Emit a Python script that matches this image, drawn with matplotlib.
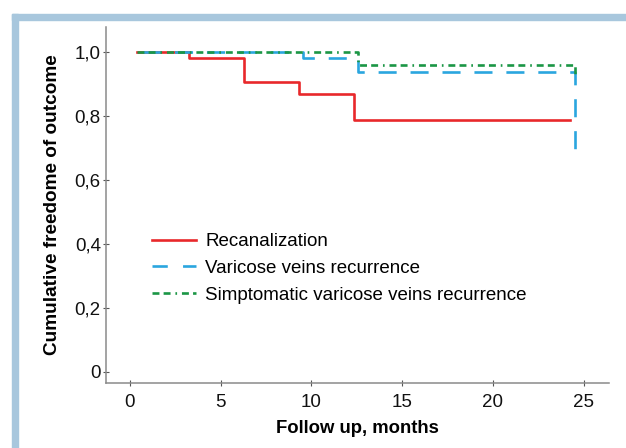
import matplotlib
matplotlib.use("Agg")
import matplotlib.pyplot as plt
from matplotlib.patches import Rectangle

plt.rcParams['font.family'] = ['Liberation Sans', 'DejaVu Sans']
plt.rcParams['lines.scale_dashes'] = False

# Kaplan-Meier curves (months, cumulative freedom)
recan_t = [0.37, 3.26, 6.29, 9.31, 12.33, 24.23]
recan_s = [1.0, 0.981, 0.906, 0.868, 0.787, 0.787]

vv_t = [0.37, 9.51, 12.54, 24.5]
vv_s = [1.0, 0.981, 0.936, 0.698]

symp_t = [0.37, 12.54, 24.5]
symp_s = [1.0, 0.96, 0.92]

labels = ["Recanalization", "Varicose veins recurrence",
          "Simptomatic varicose veins recurrence"]

x_ticks = [0, 5, 10, 15, 20, 25]
y_ticks = [0, 0.2, 0.4, 0.6, 0.8, 1.0]
y_ticklabels = ["0", "0,2", "0,4", "0,6", "0,8", "1,0"]

W, H = 626, 448
fig = plt.figure(figsize=(W / 100, H / 100), dpi=100)

# light blue frame on left and top
frame_col = "#a8c7dd"
fig.patches.append(Rectangle((12 / W, 0), 6 / W, 1 - 14 / H, transform=fig.transFigure,
                             color=frame_col, zorder=0))
fig.patches.append(Rectangle((12 / W, 1 - 20 / H), 1, 6 / H, transform=fig.transFigure,
                             color=frame_col, zorder=0))

ax = fig.add_axes([106 / W, 1 - 383 / H, (609 - 106) / W, (383 - 27) / H])

ax.step(recan_t, recan_s, where='post', color="#e8282b", lw=1.9, label=labels[0])
ax.step(vv_t, vv_s, where='post', color="#2aa6df", lw=1.9,
        linestyle=(19, (13, 10)), label=labels[1])
ax.step(symp_t, symp_s, where='post', color="#1b9645", lw=1.9,
        linestyle=(0, (5, 3, 5, 3.5, 1.2, 3.5)), label=labels[2])

ax.set_xlim(-1.32, 26.4)
ax.set_ylim(-0.035, 1.078)
ax.set_xticks(x_ticks)
ax.set_yticks(y_ticks)
ax.set_yticklabels(y_ticklabels)

for s in ['top', 'right']:
    ax.spines[s].set_visible(False)
for s in ['left', 'bottom']:
    ax.spines[s].set_color("#8a8a8a")
    ax.spines[s].set_linewidth(1.1)

ax.tick_params(axis='both', direction='inout', length=4.5, width=0.8,
               color="#555555", labelsize=13.5, labelcolor="#111111")
ax.tick_params(axis='x', pad=5.5)
ax.tick_params(axis='y', pad=1.5)

ax.set_xlabel("Follow up, months", fontsize=13.3, fontweight='bold', labelpad=7)
ax.set_ylabel("Cumulative freedome of outcome", fontsize=13.7, fontweight='bold', labelpad=10)

leg = ax.legend(loc='upper left', bbox_to_anchor=(152 / W, 1 - 233 / H),
                bbox_transform=fig.transFigure, frameon=False, fontsize=13.5,
                handlelength=2.35, handletextpad=0.5, labelspacing=0.52, borderpad=0,
                borderaxespad=0)
leg.get_lines()[1].set_linestyle((0, (11, 11)))

fig.savefig("out.png", dpi=100)
